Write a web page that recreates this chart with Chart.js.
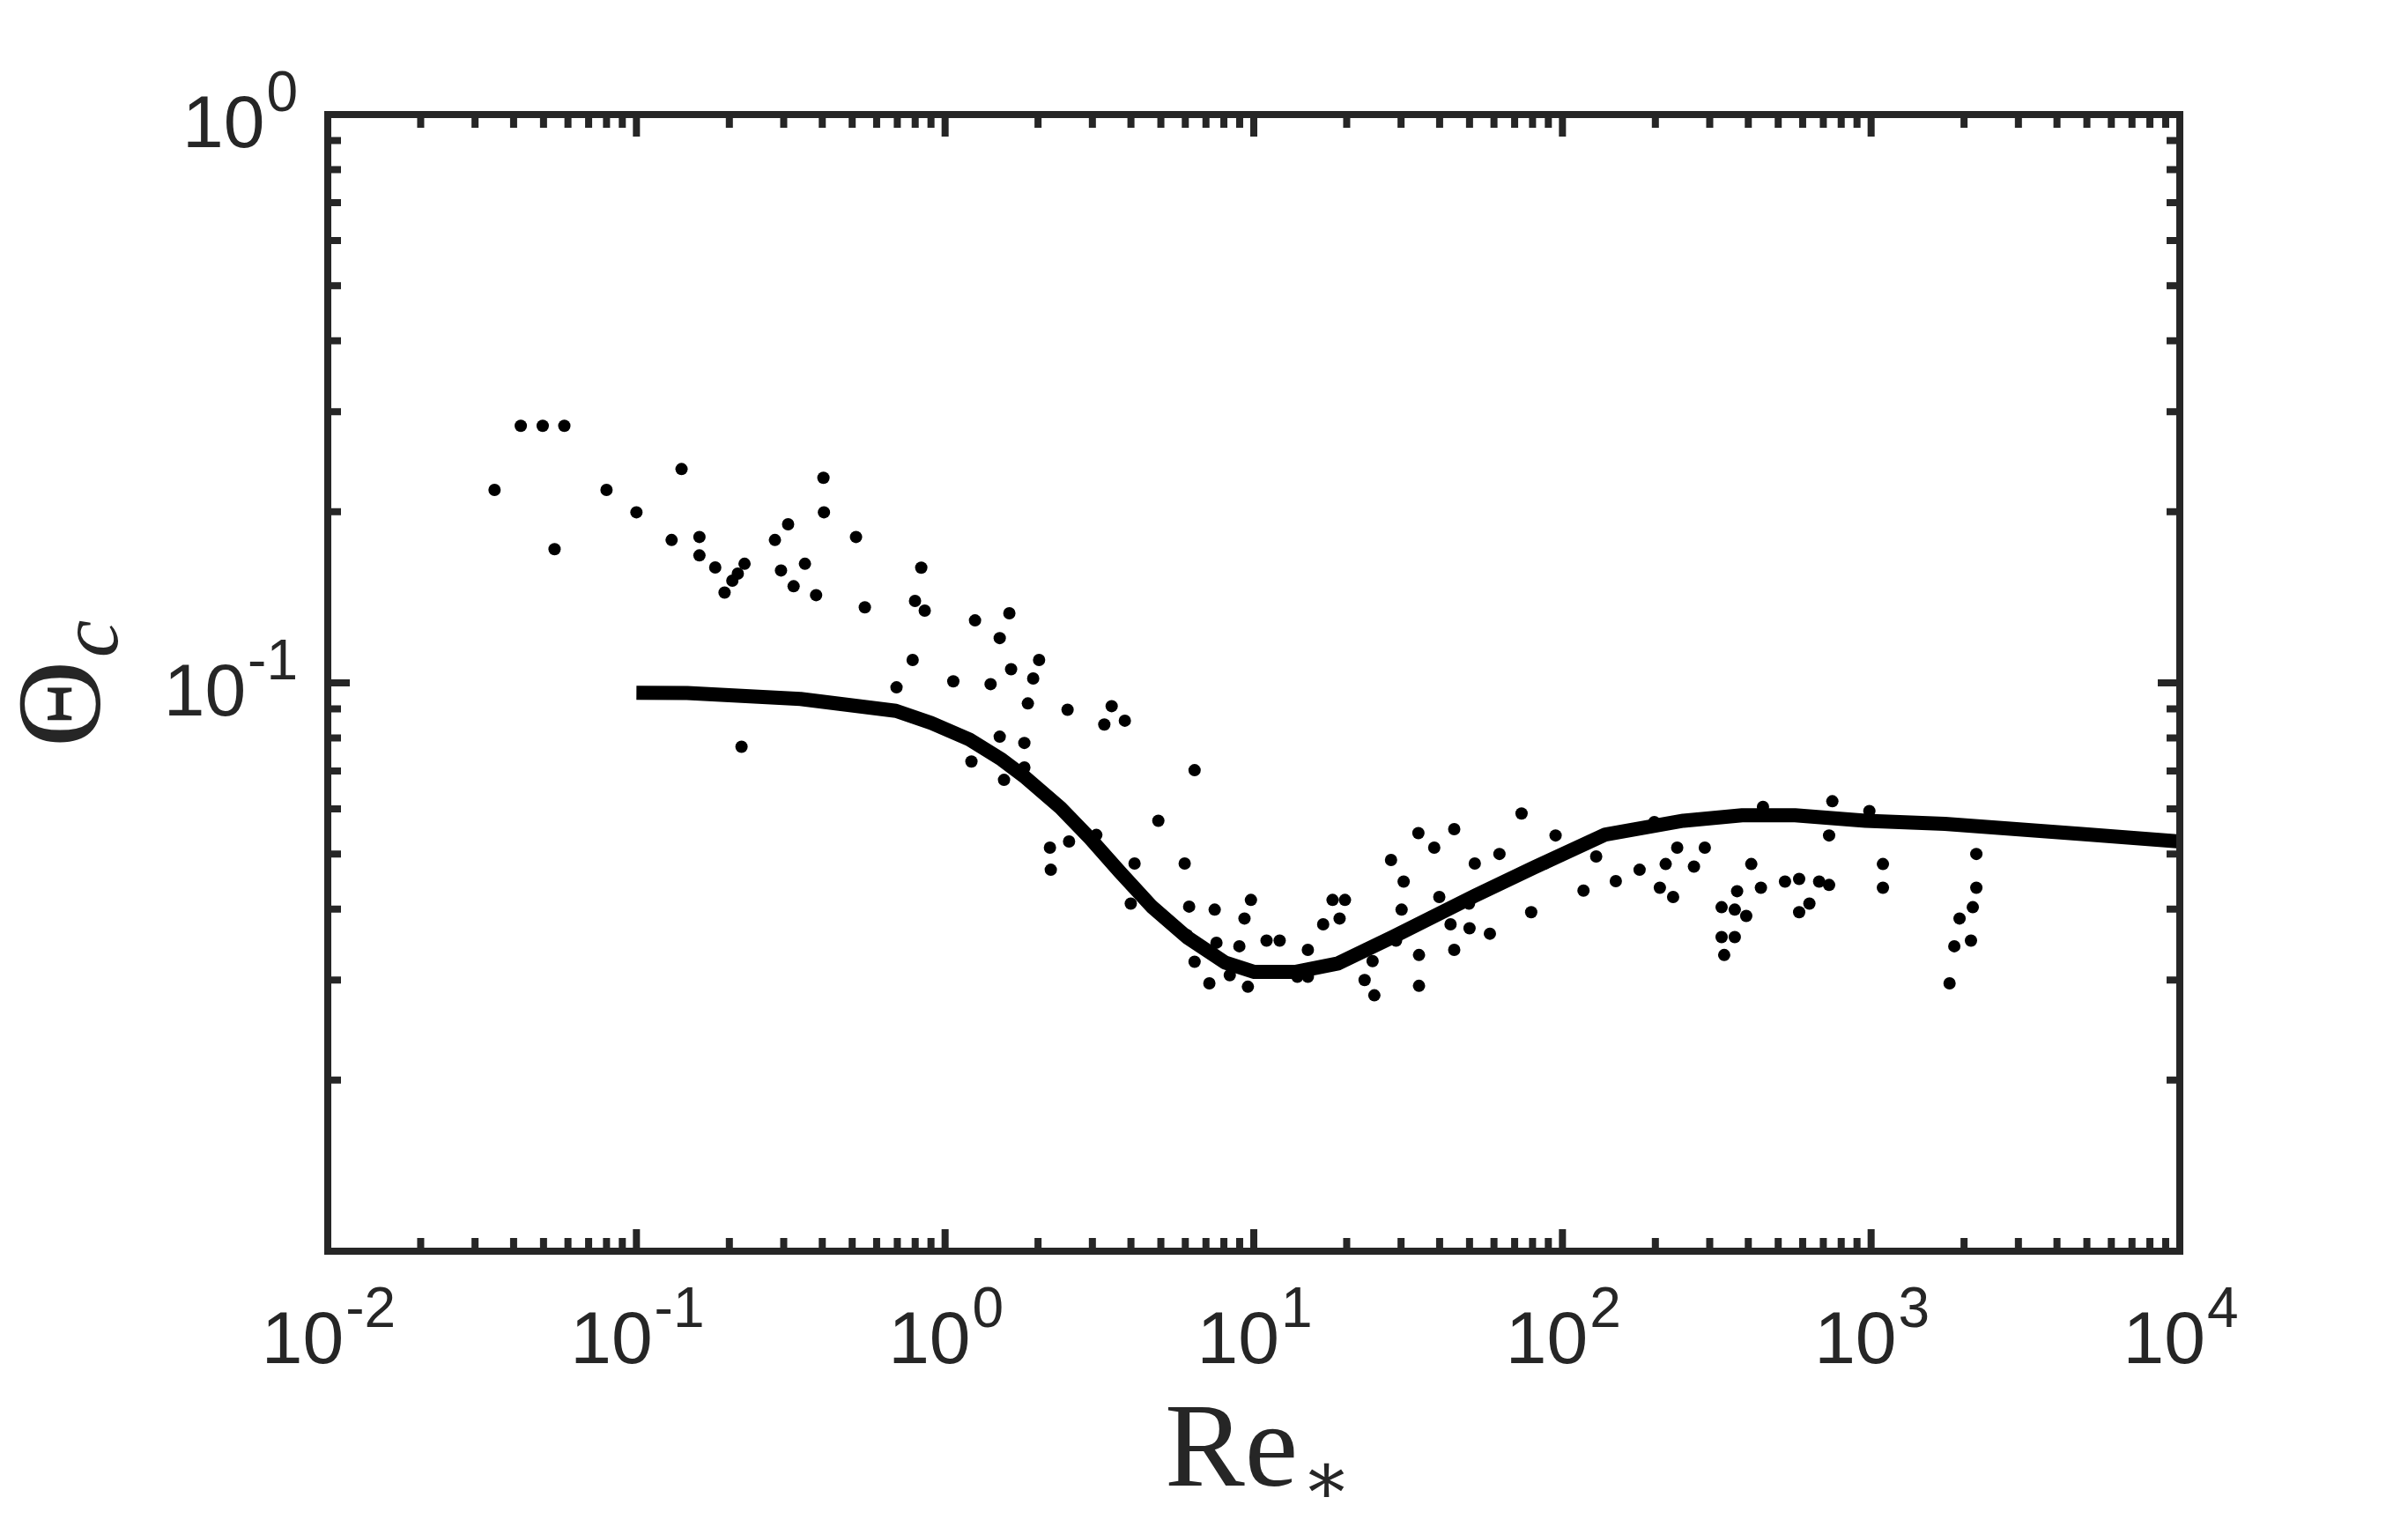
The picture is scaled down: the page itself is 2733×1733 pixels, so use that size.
<!DOCTYPE html>
<html>
<head>
<meta charset="utf-8">
<title>Critical Shields parameter vs Re*</title>
<script src="https://cdn.jsdelivr.net/npm/chart.js@4"></script>
<style>
  html, body { margin: 0; padding: 0; background: #fff; }
  canvas { display: block; }
</style>
</head>
<body>
<canvas id="chart" width="2733" height="1733"></canvas>
<script>
// measured points (Re*, Theta_c)
const reScatter = [
  0.0347, 0.0422, 0.0497, 0.0584, 0.0543, 0.080, 0.100, 0.140, 0.130, 0.160,
  0.160, 0.180, 0.224, 0.213, 0.2045, 0.193, 0.219, 0.281, 0.310, 0.294,
  0.3515, 0.323, 0.382, 0.4035, 0.405, 0.5145, 0.5495,
  0.837, 0.799, 0.859, 0.785, 0.696, 1.063, 1.25, 1.503, 1.615, 1.404,
  1.636, 2.016, 1.929, 1.854, 1.503, 1.806, 1.217, 1.806, 1.552, 2.493,
  3.464, 3.279, 3.822, 6.43, 4.907, 3.09, 2.521, 2.186, 2.2, 4.109,
  5.973, 3.995, 6.175, 7.471, 9.79, 9.33, 7.57, 8.98, 11.0, 6.43,
  7.18, 9.57, 8.36, 6.07,
  12.13, 14.97, 13.84, 14.97, 16.78, 18.0, 19.74, 18.97, 24.26, 22.86,
  24.58, 27.84, 30.59, 30.12, 28.9, 34.14, 38.42, 44.6, 39.9, 34.3,
  34.3, 43.4, 50.0, 44.6, 49.8, 52.0, 58.2, 62.5, 73.7, 95.0,
  79.2, 87.6, 117,
  128.6, 148.9, 177.8, 198.4, 216, 235.4, 206.8, 228.3, 266.7, 289.2,
  368, 327.8, 361.6, 393.9, 327.8, 361.6, 334.2, 409, 439.5, 446.3,
  526, 584.6, 631, 584.6, 678.6, 730.9, 730.9, 748.8, 987, 1092,
  1092, 1795, 1860, 1934, 2106, 2135, 2192, 2192
];
const thetaScatter = [
  0.2185, 0.2833, 0.2833, 0.2833, 0.1719, 0.2185, 0.1996, 0.2378, 0.1784, 0.1806,
  0.1676, 0.1596, 0.1620, 0.1557, 0.1513, 0.1442, 0.0772, 0.1784, 0.1901, 0.1577,
  0.1620, 0.1479, 0.1427, 0.2295, 0.1996, 0.1806, 0.1358,
  0.1595, 0.1394, 0.1340, 0.1097, 0.0982, 0.1006, 0.1288, 0.1199, 0.1326, 0.0995,
  0.1057, 0.1097, 0.1018, 0.0920, 0.0804, 0.0784, 0.0727, 0.0710, 0.0675, 0.0897,
  0.0910, 0.0845, 0.0858, 0.0702, 0.0572, 0.0540, 0.0526, 0.0513, 0.0469, 0.0481,
  0.0481, 0.0409, 0.0404, 0.0399, 0.0415, 0.0385, 0.0349, 0.0344, 0.0352, 0.0323,
  0.0296, 0.0292, 0.0306, 0.0360,
  0.0352, 0.0339, 0.0304, 0.0304, 0.0376, 0.0415, 0.0415, 0.0385, 0.0324, 0.0300,
  0.0282, 0.0488, 0.0447, 0.0399, 0.0352, 0.0544, 0.0513, 0.0553, 0.0420, 0.0332,
  0.0293, 0.0376, 0.0370, 0.0339, 0.0409, 0.0481, 0.0362, 0.0500, 0.0589, 0.0539,
  0.0395, 0.0481, 0.0431,
  0.0495, 0.0448, 0.0469, 0.0569, 0.0480, 0.0513, 0.0436, 0.0420, 0.0475, 0.0513,
  0.0430, 0.0403, 0.0399, 0.0389, 0.0357, 0.0357, 0.0332, 0.0480, 0.0436, 0.0605,
  0.0447, 0.0452, 0.0409, 0.0395, 0.0447, 0.0441, 0.0539, 0.0619, 0.0595, 0.0480,
  0.0436, 0.0296, 0.0344, 0.0385, 0.0352, 0.0403, 0.0436, 0.0500
];

// fitted curve
const reCurve = [
  0.1, 0.146, 0.34, 0.693, 0.902, 1.199, 1.526, 1.818, 2.365, 2.945,
  3.667, 4.67, 6.07, 8.07, 10.05, 13.6, 18.77, 28.15, 52, 80.6,
  137.8, 246.5, 382, 567, 959, 1734, 4810, 10000
];
const thetaCurve = [
  0.0961, 0.0960, 0.0937, 0.0893, 0.0850, 0.0795, 0.0733, 0.0682, 0.0603, 0.0533,
  0.0466, 0.0404, 0.0357, 0.0322, 0.0310, 0.0310, 0.0321, 0.0357, 0.0422, 0.0473,
  0.0541, 0.0572, 0.0585, 0.0585, 0.0572, 0.0565, 0.0542, 0.0526
];

// axes
const xDecades = [-2, -1, 0, 1, 2, 3, 4];
const yDecades = [-2, -1, 0];
const yLabelDecades = [-1, 0];
const xTitle = ['Re', '∗'];
const yTitle = ['Θ', 'c'];

const INK = '#262626';
const SANS = '"Liberation Sans", Arial, Helvetica, sans-serif';
const SERIF = '"Liberation Serif", "Times New Roman", serif';

function minorValues(decades) {
  const out = [];
  for (let i = 0; i < decades.length - 1; i++) {
    for (let k = 2; k <= 9; k++) out.push(k * Math.pow(10, decades[i]));
  }
  return out;
}

function drawPow(ctx, exp, x, y, align) {
  // "10" with raised exponent
  const base = '10', sup = String(exp);
  ctx.font = '84px ' + SANS;
  const wb = ctx.measureText(base).width;
  ctx.font = '64px ' + SANS;
  const ws = ctx.measureText(sup).width;
  const total = wb + ws;
  let left = align === 'right' ? x - total : x - total / 2;
  ctx.textAlign = 'left';
  ctx.textBaseline = 'alphabetic';
  ctx.font = '84px ' + SANS;
  ctx.fillText(base, left, y);
  ctx.font = '64px ' + SANS;
  ctx.fillText(sup, left + wb + 2, y - 41);
}

const axesBox = {
  id: 'axesBox',
  afterDatasetsDraw(chart) {
    const { ctx, chartArea: a, scales } = chart;
    const sx = scales.x, sy = scales.y;
    const MAJ = 25, MIN = 15;
    ctx.save();
    ctx.strokeStyle = INK;
    ctx.fillStyle = INK;
    ctx.lineWidth = 8;
    ctx.lineCap = 'butt';
    ctx.lineJoin = 'miter';

    ctx.beginPath();
    xDecades.forEach(d => {
      const px = sx.getPixelForValue(Math.pow(10, d));
      ctx.moveTo(px, a.bottom); ctx.lineTo(px, a.bottom - MAJ);
      ctx.moveTo(px, a.top); ctx.lineTo(px, a.top + MAJ);
    });
    minorValues(xDecades).forEach(v => {
      const px = sx.getPixelForValue(v);
      ctx.moveTo(px, a.bottom); ctx.lineTo(px, a.bottom - MIN);
      ctx.moveTo(px, a.top); ctx.lineTo(px, a.top + MIN);
    });
    yDecades.forEach(d => {
      const py = sy.getPixelForValue(Math.pow(10, d));
      ctx.moveTo(a.left, py); ctx.lineTo(a.left + MAJ, py);
      ctx.moveTo(a.right, py); ctx.lineTo(a.right - MAJ, py);
    });
    minorValues(yDecades).forEach(v => {
      const py = sy.getPixelForValue(v);
      ctx.moveTo(a.left, py); ctx.lineTo(a.left + MIN, py);
      ctx.moveTo(a.right, py); ctx.lineTo(a.right - MIN, py);
    });
    ctx.stroke();
    ctx.strokeRect(a.left, a.top, a.right - a.left, a.bottom - a.top);

    // tick labels
    xDecades.forEach(d => {
      drawPow(ctx, d, sx.getPixelForValue(Math.pow(10, d)), a.bottom + 127, 'center');
    });
    yLabelDecades.forEach(d => {
      drawPow(ctx, d, a.left - 36, sy.getPixelForValue(Math.pow(10, d)) + 37, 'right');
    });

    // x title: Re with subscript asterisk
    ctx.textAlign = 'left';
    ctx.textBaseline = 'alphabetic';
    ctx.font = '136px ' + SERIF;
    const cx = (a.left + a.right) / 2;
    const wRe = ctx.measureText(xTitle[0]).width;
    ctx.font = '84px "DejaVu Serif", ' + SERIF;
    const wSt = ctx.measureText(xTitle[1]).width;
    const x0 = cx - (wRe + wSt) / 2 + 3;
    ctx.font = '136px ' + SERIF;
    ctx.fillText(xTitle[0], x0, 1686);
    ctx.font = '84px "DejaVu Serif", ' + SERIF;
    ctx.textBaseline = 'middle';
    ctx.fillText(xTitle[1], x0 + wRe + 4, 1684);

    // y title: Theta with subscript c, rotated
    ctx.translate(113, 799);
    ctx.rotate(-Math.PI / 2);
    ctx.textBaseline = 'alphabetic';
    ctx.textAlign = 'center';
    ctx.font = '136px ' + SERIF;
    ctx.fillText(yTitle[0], 0, 0);
    ctx.font = 'italic 96px ' + SERIF;
    ctx.fillText(yTitle[1], 74, 20);
    ctx.restore();
  }
};

new Chart(document.getElementById('chart'), {
  type: 'scatter',
  data: {
    datasets: [
      {
        label: 'curve',
        data: reCurve.map((r, i) => ({ x: r, y: thetaCurve[i] })),
        showLine: true,
        borderColor: '#000',
        borderWidth: 16,
        borderJoinStyle: 'round',
        tension: 0,
        pointRadius: 0,
        order: 0
      },
      {
        label: 'data',
        data: reScatter.map((r, i) => ({ x: r, y: thetaScatter[i] })),
        showLine: false,
        backgroundColor: '#000',
        borderWidth: 0,
        pointRadius: 7,
        order: 1
      }
    ]
  },
  options: {
    responsive: false,
    devicePixelRatio: 1,
    animation: false,
    events: [],
    layout: { padding: { left: 372, top: 130, right: 259, bottom: 313 } },
    plugins: { legend: { display: false }, tooltip: { enabled: false } },
    scales: {
      x: { type: 'logarithmic', min: 0.01, max: 10000, display: false },
      y: { type: 'logarithmic', min: 0.01, max: 1, display: false }
    }
  },
  plugins: [axesBox]
});
</script>
</body>
</html>
